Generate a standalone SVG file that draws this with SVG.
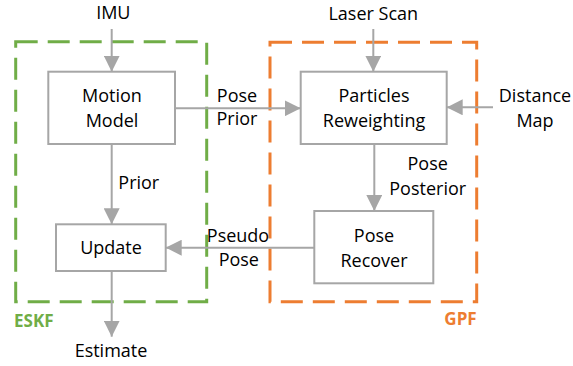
<svg xmlns="http://www.w3.org/2000/svg" width="573" height="366" viewBox="0 0 573 366">
<style>
text{font-family:"Open Sans","Liberation Sans",sans-serif;font-size:18px;fill:#000;text-anchor:middle}
.box{fill:#fff;stroke:#A6A6A6;stroke-width:2}
.con{stroke:#A6A6A6;stroke-width:2;fill:none;marker-end:url(#ah)}
.grp{fill:none;stroke-width:3;stroke-dasharray:22 10}
.lbl{font-weight:bold;font-size:17px}
</style>
<defs>
<marker id="ah" markerUnits="userSpaceOnUse" markerWidth="16" markerHeight="16" refX="16" refY="8" orient="auto">
<path d="M0,0 L16,8 L0,16 z" fill="#A6A6A6"/>
</marker>
</defs>
<g id="eskf">
<rect class="grp" x="15.7" y="41.7" width="191" height="260" stroke="#70AD47"/>
<text class="lbl" x="14" y="326.7" style="text-anchor:start;fill:#70AD47">ESKF</text>
</g>
<g id="gpf">
<rect class="grp" x="270" y="42.3" width="206.7" height="259.4" stroke="#ED7D31"/>
<text class="lbl" x="476.7" y="325" style="text-anchor:end;fill:#ED7D31">GPF</text>
</g>
<g id="connectors">
<line class="con" x1="111.7" y1="29" x2="111.7" y2="71.7"/>
<line class="con" x1="111.7" y1="144" x2="111.7" y2="224.3"/>
<line class="con" x1="111.7" y1="271" x2="111.7" y2="336.7"/>
<line class="con" x1="175" y1="108.3" x2="300.7" y2="108.3"/>
<line class="con" x1="373.3" y1="29" x2="373.3" y2="71.7"/>
<line class="con" x1="493" y1="107.3" x2="446.7" y2="107.3"/>
<line class="con" x1="374.3" y1="144" x2="374.3" y2="211"/>
<line class="con" x1="314.3" y1="247.7" x2="165.7" y2="247.7"/>
<text x="237" y="101.7">Pose</text>
<text x="237" y="125">Prior</text>
<text x="118.3" y="189.3" style="text-anchor:start">Prior</text>
<text x="238" y="241.7">Pseudo</text>
<text x="238.8" y="266">Pose</text>
<text x="427.7" y="170">Pose</text>
<text x="427.7" y="195">Posterior</text>
</g>
<g id="imu"><text x="113.3" y="19.3">IMU</text></g>
<g id="laser"><text x="373.3" y="20">Laser Scan</text></g>
<g id="distance"><text x="535" y="101.7">Distance</text><text x="535" y="126.7">Map</text></g>
<g id="estimate"><text x="111" y="356.7">Estimate</text></g>
<g id="motion">
<rect class="box" x="48.3" y="71.7" width="126.7" height="72.3"/>
<text x="112" y="101.7">Motion</text><text x="112" y="126.7">Model</text>
</g>
<g id="update">
<rect class="box" x="56" y="224.3" width="109.7" height="46.7"/>
<text x="111" y="254">Update</text>
</g>
<g id="particles">
<rect class="box" x="300.7" y="71.7" width="146" height="72.3"/>
<text x="374" y="101.7">Particles</text><text x="374" y="126.7">Reweighting</text>
</g>
<g id="recover">
<rect class="box" x="314.3" y="211" width="119" height="72.3"/>
<text x="374" y="241.7">Pose</text><text x="374" y="266.7">Recover</text>
</g>
</svg>
